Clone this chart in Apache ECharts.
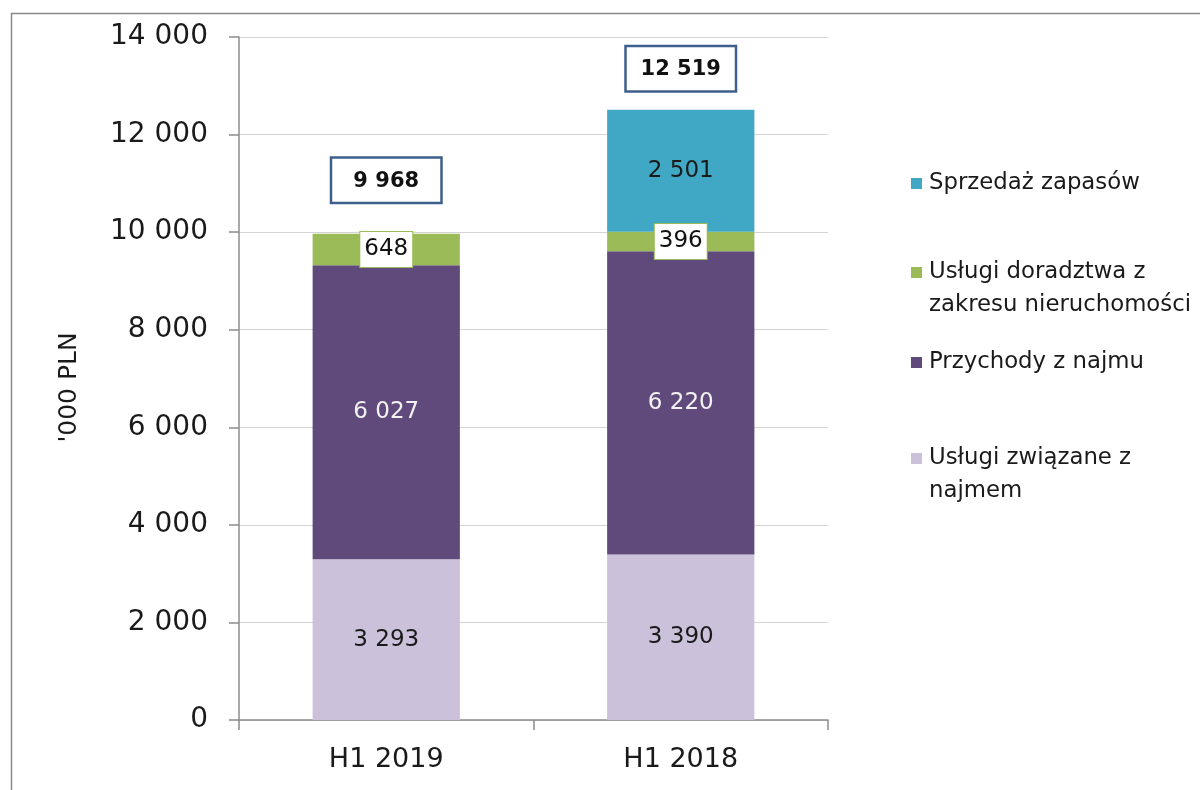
<!DOCTYPE html>
<html>
<head>
<meta charset="utf-8">
<script src="https://cdn.jsdelivr.net/npm/echarts@6/dist/echarts.min.js"></script>
<style>
  html, body { margin: 0; padding: 0; background: #fff; }
  #main { width: 1200px; height: 790px; }
</style>
</head>
<body>
<div id="main"></div>
<script>
const categories = ['H1 2019', 'H1 2018'];
const uslugiZwiazane = [3293, 3390];
const przychodyNajmu = [6027, 6220];
const doradztwo = [648, 396];
const sprzedazZapasow = [0, 2501];
const totals = [9968, 12519];
const yTicks = [0, 2000, 4000, 6000, 8000, 10000, 12000, 14000];

const FONT = 'DejaVu Sans';
const fmt = (v) => String(v).replace(/\B(?=(\d{3})+(?!\d))/g, ' ');

const myChart = echarts.init(document.getElementById('main'));

const barLabel = (color) => ({
  show: true,
  position: 'inside',
  fontFamily: FONT,
  fontSize: 23,
  color: color,
  formatter: (p) => (p.value ? fmt(p.value) : '')
});

const legendBase = {
  orient: 'vertical',
  left: 906,
  itemWidth: 11,
  itemHeight: 11,
  icon: 'rect',
  selectedMode: false,
  textStyle: { fontFamily: FONT, fontSize: 22.8, color: '#1a1a1a', lineHeight: 33, padding: [0, 0, 0, 2] }
};
// blank first line keeps the icon level with the first text line
const twoLine = (name) => ' \n' + name;

myChart.setOption({
  animation: false,
  backgroundColor: '#fff',
  textStyle: { fontFamily: FONT },
  graphic: [
    {
      type: 'rect',
      shape: { x: 11.5, y: 13.5, width: 1400, height: 1000 },
      style: { fill: 'none', stroke: '#8a8a8a', lineWidth: 1.5 },
      silent: true
    }
  ],
  legend: [
    Object.assign({}, legendBase, { top: 162, data: ['Sprzedaż zapasów'] }),
    Object.assign({}, legendBase, { top: 218, data: ['Usługi doradztwa z\nzakresu nieruchomości'], formatter: twoLine }),
    Object.assign({}, legendBase, { top: 341, data: ['Przychody z najmu'] }),
    Object.assign({}, legendBase, { top: 404, data: ['Usługi związane z\nnajmem'], formatter: twoLine })
  ],
  grid: { left: 239, right: 372, top: 37, bottom: 70 },
  xAxis: {
    type: 'category',
    data: categories,
    axisLine: { lineStyle: { color: '#8c8c8c', width: 1.5 } },
    axisTick: { show: true, length: 10, lineStyle: { color: '#8c8c8c', width: 1.5 } },
    axisLabel: { fontFamily: FONT, fontSize: 27, color: '#1a1a1a', margin: 26 }
  },
  yAxis: {
    type: 'value',
    min: yTicks[0],
    max: yTicks[yTicks.length - 1],
    interval: yTicks[1] - yTicks[0],
    name: "'000 PLN",
    nameLocation: 'middle',
    nameRotate: 90,
    nameGap: 157,
    nameTextStyle: { fontFamily: FONT, fontSize: 25, color: '#1a1a1a', padding: [0, 18, 0, 0] },
    axisLine: { show: true, lineStyle: { color: '#8c8c8c', width: 1.5 } },
    axisTick: { show: true, length: 10, lineStyle: { color: '#8c8c8c', width: 1.5 } },
    axisLabel: { fontFamily: FONT, fontSize: 28, color: '#1a1a1a', margin: 31, formatter: (v) => fmt(v) },
    splitLine: { lineStyle: { color: '#d4d4d4', width: 1.2 } }
  },
  series: [
    {
      name: 'Usługi związane z\nnajmem',
      type: 'bar',
      stack: 'total',
      barWidth: '50%',
      data: uslugiZwiazane,
      itemStyle: { color: '#ccc1da' },
      label: barLabel('#1a1a1a')
    },
    {
      name: 'Przychody z najmu',
      type: 'bar',
      stack: 'total',
      data: przychodyNajmu,
      itemStyle: { color: '#5f4a7b' },
      label: barLabel('#f2f2f2')
    },
    {
      name: 'Usługi doradztwa z\nzakresu nieruchomości',
      type: 'bar',
      stack: 'total',
      data: doradztwo,
      itemStyle: { color: '#9bbb59' },
      label: Object.assign(barLabel('#111'), {
        backgroundColor: '#fff',
        borderColor: '#9bbb59',
        borderWidth: 1,
        padding: [7, 4, 5, 4]
      })
    },
    {
      name: 'Sprzedaż zapasów',
      type: 'bar',
      stack: 'total',
      data: sprzedazZapasow,
      itemStyle: { color: '#40a8c4' },
      label: barLabel('#1a1a1a')
    },
    {
      name: 'Suma',
      type: 'scatter',
      symbolSize: 0,
      silent: true,
      itemStyle: { opacity: 1 },
      data: totals.map((v, i) => ({
        value: v,
        label: { distance: i === 0 ? 32 : 19 }
      })),
      label: {
        show: true,
        position: 'top',
        fontFamily: FONT,
        fontSize: 21,
        fontWeight: 'bold',
        color: '#111',
        backgroundColor: '#fff',
        borderColor: '#3d5f8c',
        borderWidth: 2.5,
        width: 68,
        align: 'center',
        padding: [12, 20, 10, 20],
        formatter: (p) => fmt(p.value)
      }
    }
  ]
});
</script>
</body>
</html>
